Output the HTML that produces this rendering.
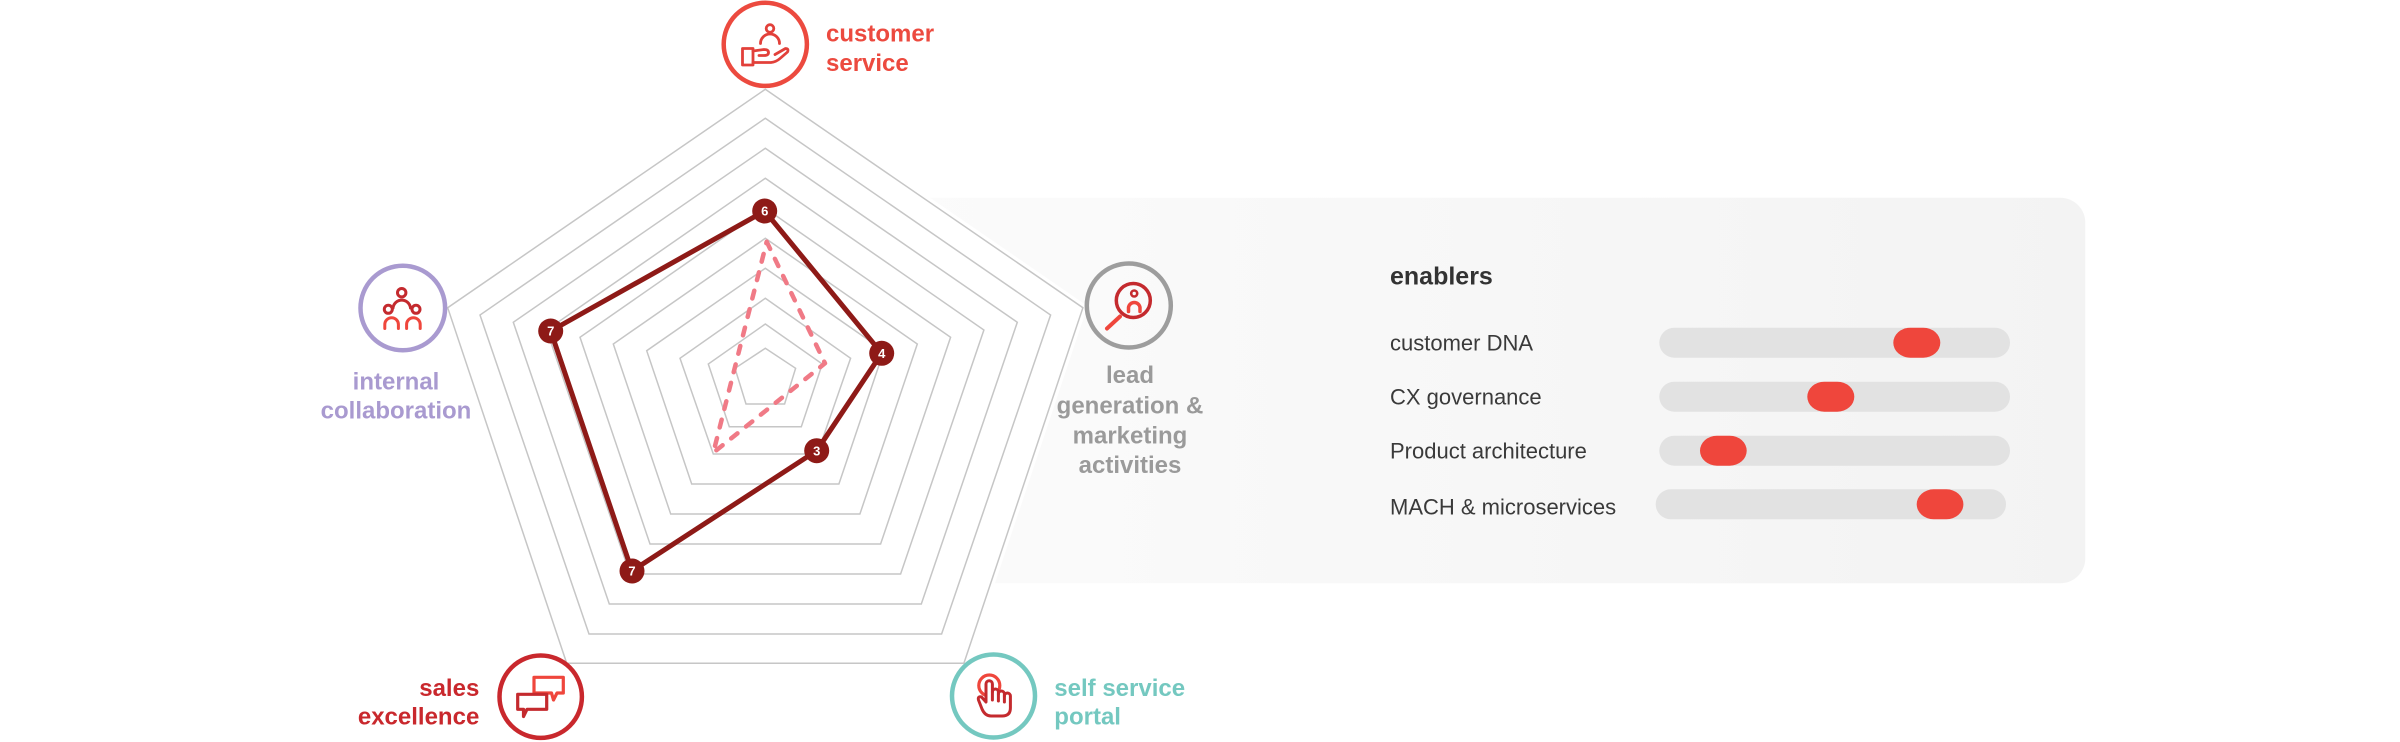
<!DOCTYPE html>
<html>
<head>
<meta charset="utf-8">
<style>
  html,body{margin:0;padding:0;background:#fff;}
  body{width:2400px;height:742px;overflow:hidden;}
  svg{display:block;}
  .lbl{font-family:"Liberation Sans",sans-serif;font-weight:bold;font-size:24px;}
  .en{font-family:"Liberation Sans",sans-serif;font-size:22px;fill:#3a3a3a;}
  .num{font-family:"Liberation Sans",sans-serif;font-weight:bold;font-size:13px;fill:#fff;text-anchor:middle;}
</style>
</head>
<body>
<svg width="2400" height="742" viewBox="0 0 2400 742" xmlns="http://www.w3.org/2000/svg">
  <defs>
    <linearGradient id="pg" x1="900" y1="0" x2="2085" y2="0" gradientUnits="userSpaceOnUse">
      <stop offset="0" stop-color="#fbfbfb"/>
      <stop offset="1" stop-color="#f3f3f3"/>
    </linearGradient>
  </defs>

  <!-- panel -->
  <rect x="700" y="197.7" width="1385.3" height="385.6" rx="25" fill="url(#pg)"/>

  <!-- pentagon white backing -->
  <polygon points="765.3,89.3 1082.9,307.7 963.9,663.3 566.7,663.3 447.7,307.7" fill="#fff" stroke="#fff" stroke-width="8" stroke-linejoin="miter"/>

  <!-- rings -->
  <g fill="none" stroke="#c6c6c6" stroke-width="1.5">
    <polygon points="765.3,89.3 1082.9,307.7 963.9,663.3 566.7,663.3 447.7,307.7"/>
    <polygon points="765.3,118.3 1050.6,315 941.6,634 589,634 480,315"/>
    <polygon points="765.3,148.3 1017.3,322.3 921.3,604 609.3,604 513.3,322.3"/>
    <polygon points="765.3,178.3 983.9,330 900.6,574 630,574 546.7,330"/>
    <polygon points="765.3,208.3 950.6,337.3 880.6,544 650,544 580,337.3"/>
    <polygon points="765.3,238.3 917.3,344 859.9,514 670.7,514 613.3,344"/>
    <polygon points="765.3,268.3 883.9,350.7 838.9,484 691.7,484 646.7,350.7"/>
    <polygon points="765.3,298.3 850.6,358.3 817.3,454 713.3,454 680,358.3"/>
    <polygon points="765.3,324 822.3,364 801.3,426.7 729.3,426.7 708.3,364"/>
    <polygon points="765.3,348.3 795.6,368.3 784.6,404 746,404 735,368.3"/>
  </g>

  <!-- dashed triangle -->
  <polygon points="766.7,241.7 825,363.3 713.3,452.7" fill="none" stroke="#f07a86" stroke-width="4.5" stroke-dasharray="8 11" stroke-linecap="round" stroke-linejoin="round"/>

  <!-- data polygon -->
  <polygon points="764.7,211 881.7,353.3 816.7,450.7 632,571 550.7,331" fill="none" stroke="#8e1a17" stroke-width="5" stroke-linejoin="round"/>
  <g fill="#8e1a17">
    <circle cx="764.7" cy="211" r="12.5"/>
    <circle cx="881.7" cy="353.3" r="12.5"/>
    <circle cx="816.7" cy="450.7" r="12.5"/>
    <circle cx="632" cy="571" r="12.5"/>
    <circle cx="550.7" cy="331" r="12.5"/>
  </g>
  <text class="num" x="764.7" y="215.6">6</text>
  <text class="num" x="881.7" y="357.9">4</text>
  <text class="num" x="816.7" y="455.3">3</text>
  <text class="num" x="632" y="575.6">7</text>
  <text class="num" x="550.7" y="335.6">7</text>

  <!-- customer service -->
  <circle cx="765.3" cy="44.3" r="41.6" fill="#fff" stroke="#ec4a3f" stroke-width="4.5"/>
  <g fill="none" stroke="#e2403a" stroke-width="2.8" stroke-linejoin="round" stroke-linecap="round">
    <circle cx="770" cy="28.5" r="3.8"/>
    <path d="M760.5,43.5 A9.5,9.5 0 0 1 779.5,43.5"/>
    <rect x="742.5" y="48.5" width="10.5" height="16.5"/>
    <path d="M753,51 L764,49.5 Q768.5,49.5 768.5,52.5 Q768.5,55.5 764,55.5 L759,55.5"/>
    <path d="M753,62.5 L771,62.5 Q776,62 780,58.5 L787.5,52 Q789,48.5 785.5,48.5 L775,54.5"/>
  </g>
  <text class="lbl" x="826" y="41.7" fill="#ec4a3f">customer</text>
  <text class="lbl" x="826" y="71" fill="#ec4a3f">service</text>

  <!-- internal collaboration -->
  <circle cx="402.8" cy="308" r="42.3" fill="#fff" stroke="#a99ad0" stroke-width="4.5"/>
  <g fill="none" stroke-width="3" stroke-linecap="round">
    <g stroke="#c42a2e">
      <circle cx="401.7" cy="292.7" r="4.2"/>
      <path d="M393,308 A8.8,8.8 0 0 1 410.5,308"/>
      <circle cx="388.3" cy="309.3" r="4"/>
      <circle cx="416" cy="309.3" r="4"/>
    </g>
    <g stroke="#ef463c">
      <path d="M384.8,328.5 V324.5 A6.8,6.8 0 0 1 398.4,324.5 V328.5"/>
      <path d="M406.6,328.5 V324.5 A6.8,6.8 0 0 1 420.2,324.5 V328.5"/>
    </g>
  </g>
  <text class="lbl" x="396" y="389.3" fill="#a99ad0" text-anchor="middle">internal</text>
  <text class="lbl" x="396" y="418.3" fill="#a99ad0" text-anchor="middle">collaboration</text>

  <!-- lead generation -->
  <circle cx="1128.8" cy="305.5" r="42" fill="none" stroke="#9d9d9d" stroke-width="4.5"/>
  <g fill="none" stroke-linecap="round">
    <circle cx="1133.3" cy="300.5" r="17" stroke="#c42a2e" stroke-width="3.5"/>
    <circle cx="1134.2" cy="293.5" r="3" stroke="#c42a2e" stroke-width="2.6"/>
    <path d="M1128.5,311.5 V307.5 A5.8,5.8 0 0 1 1140,307.5 V311.5" stroke="#ef463c" stroke-width="3.5"/>
    <line x1="1120" y1="316.5" x2="1107" y2="328.5" stroke="#ef463c" stroke-width="4"/>
  </g>
  <g class="lbl" fill="#9a9a9a" text-anchor="middle">
    <text x="1130" y="383">lead</text>
    <text x="1130" y="413.3">generation &amp;</text>
    <text x="1130" y="443.5">marketing</text>
    <text x="1130" y="473">activities</text>
  </g>

  <!-- sales excellence -->
  <circle cx="540.7" cy="696.7" r="41.2" fill="#fff" stroke="#c9282d" stroke-width="4.5"/>
  <g stroke-width="3.2" stroke-linejoin="round">
    <path d="M534,693 V677.3 H563.3 V693 H557 L553.5,700 L551.5,693 Z" fill="none" stroke="#ef463c"/>
    <path d="M517.7,694.3 H546.7 V709.3 H527 L523.5,716.5 V709.3 H517.7 Z" fill="#fff" stroke="#c42a2e"/>
  </g>
  <text class="lbl" x="479.3" y="696" fill="#c9282d" text-anchor="end">sales</text>
  <text class="lbl" x="479.3" y="724.7" fill="#c9282d" text-anchor="end">excellence</text>

  <!-- self service portal -->
  <circle cx="993.5" cy="696" r="41.5" fill="#fff" stroke="#74c8c0" stroke-width="4.5"/>
  <circle cx="989.3" cy="685.5" r="10.5" fill="none" stroke="#ef463c" stroke-width="3.2"/>
  <g stroke="#c42a2e" stroke-width="3" stroke-linejoin="round" stroke-linecap="round">
    <path d="M986,702 V684 A3.2,3.2 0 0 1 992.4,684 V692 A3,3 0 0 1 998.4,692 V694 A3,3 0 0 1 1004.4,694 V696 A3,3 0 0 1 1010.4,696 V708 Q1010.4,716 1002,716 H991 Q985,716 982,709 L978.5,700 Q977.5,696 981.5,697 Z" fill="#fff"/>
    <path d="M992.4,692 V700 M998.4,694 V701 M1004.4,696 V702" fill="none"/>
  </g>
  <text class="lbl" x="1054.3" y="696" fill="#74c8c0">self service</text>
  <text class="lbl" x="1054.3" y="724.7" fill="#74c8c0">portal</text>

  <!-- enablers -->
  <text x="1390" y="284.3" font-family="Liberation Sans, sans-serif" font-weight="bold" font-size="25" fill="#333">enablers</text>
  <text class="en" x="1390" y="350.7">customer DNA</text>
  <text class="en" x="1390" y="404.3">CX governance</text>
  <text class="en" x="1390" y="458.3">Product architecture</text>
  <text class="en" x="1390" y="514.3">MACH &amp; microservices</text>

  <g fill="#e2e2e2">
    <rect x="1659.3" y="327.7" width="350.7" height="30" rx="15"/>
    <rect x="1659.3" y="381.7" width="350.7" height="30" rx="15"/>
    <rect x="1659.3" y="435.7" width="350.7" height="30" rx="15"/>
    <rect x="1655.7" y="489.3" width="350.3" height="30" rx="15"/>
  </g>
  <g fill="#ef463c">
    <rect x="1893.3" y="327.7" width="47" height="30" rx="17" ry="15"/>
    <rect x="1807.3" y="381.7" width="47" height="30" rx="17" ry="15"/>
    <rect x="1700" y="435.7" width="46.7" height="30" rx="17" ry="15"/>
    <rect x="1916.7" y="489.3" width="46.7" height="30" rx="17" ry="15"/>
  </g>
</svg>
</body>
</html>
